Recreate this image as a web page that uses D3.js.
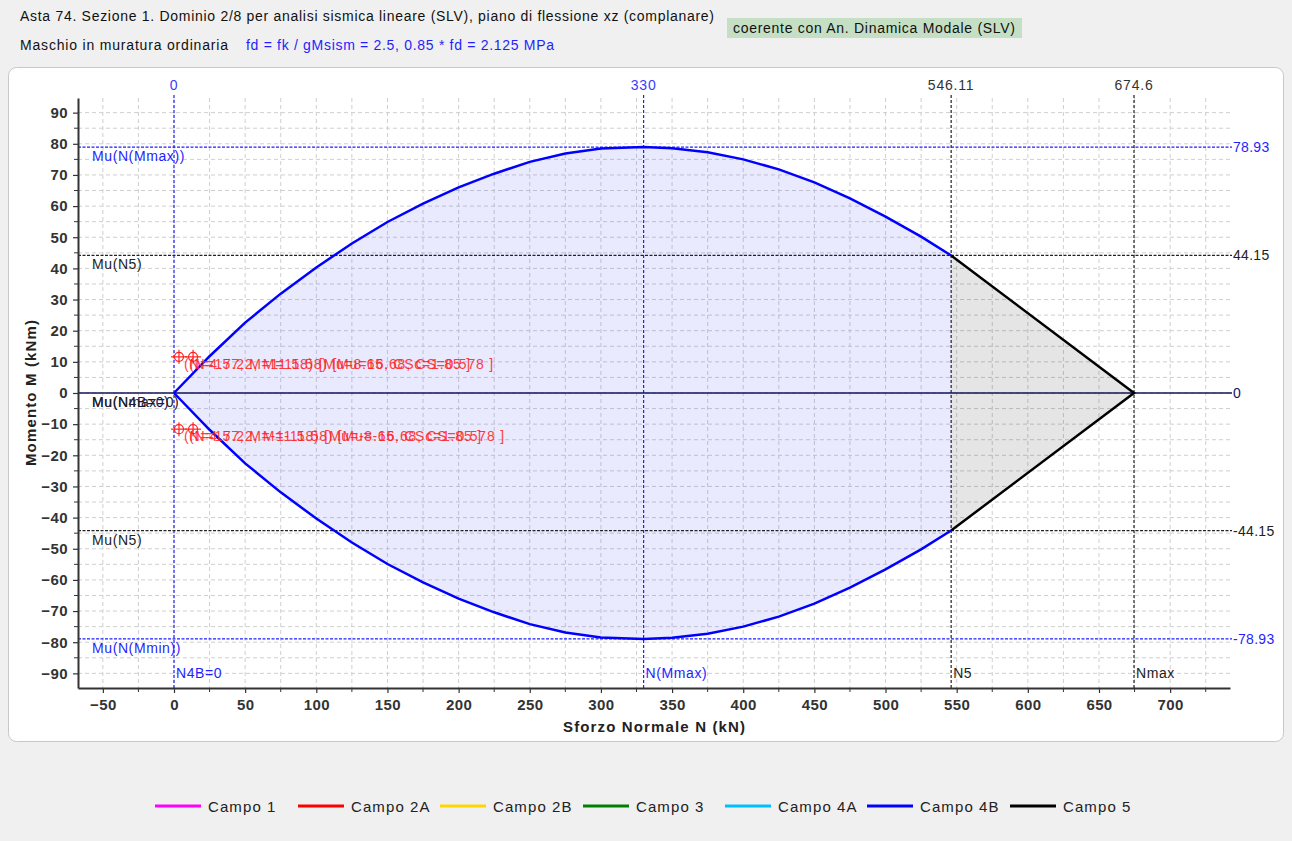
<!DOCTYPE html>
<html><head><meta charset="utf-8">
<script src="https://cdn.jsdelivr.net/npm/d3@7/dist/d3.min.js"></script>
<style>
html,body{margin:0;padding:0;background:#f0f0f0;}
svg{display:block;font-family:"Liberation Sans",Arial,sans-serif;}
</style></head>
<body>
<svg id="c" width="1292" height="841"></svg>
<script>
// ---- data ----
const domainN = [0,25,50,75,100,125,150,175,200,225,250,275,300,330,350,375,400,425,450,475,500,525,546.11];
const domainMup = [0,11.8,22.6,31.9,40.3,48.0,54.9,60.8,66.0,70.4,74.2,76.9,78.5,78.93,78.6,77.3,75.0,71.8,67.6,62.5,56.6,50.2,44.15];
const domainMlow = [0,-11.8,-22.6,-31.9,-40.3,-48.0,-54.9,-60.8,-66.0,-70.4,-74.2,-76.9,-78.5,-78.93,-78.6,-77.3,-75.0,-71.8,-67.6,-62.5,-56.6,-50.2,-44.15];
const campo5N = [546.11,674.6,546.11];
const campo5M = [44.15,0,-44.15];
const refN = [0,330,546.11,674.6];
const refNLabels = ["0","330","546.11","674.6"];
const refNNames = ["N4B=0","N(Mmax)","N5","Nmax"];
const refNColors = ["#1f1fff","#1f1fff","#222","#222"];
const refM = [78.93,44.15,0,-44.15,-78.93];
const refMLabels = ["78.93","44.15","0","-44.15","-78.93"];
const refMNames = ["Mu(N(Mmax))","Mu(N5)","Mu(N4B=0)","Mu(N5)","Mu(N(Mmin))"];
const refMColors = ["#1f1fff","#222","#14145a","#222","#1f1fff"];
const pointN = [3.5,13.4,3.5,13.4];
const pointM = [11.6,11.6,-11.6,-11.6];
const pointLabels = [
 "(N=4.57, M=11.58) [Mu=8.65, CSc=1.85 ]",
 "(N=17.22, M=11.58) [Mu=16.68, CS=0.578 ]",
 "(N=4.57, M=-11.58) [Mu=-8.65, CSc=1.85 ]",
 "(N=17.22, M=-11.58) [Mu=-16.68, CS=0.578 ]"
];
const xTicks = [-50,0,50,100,150,200,250,300,350,400,450,500,550,600,650,700];
const yTicks = [-90,-80,-70,-60,-50,-40,-30,-20,-10,0,10,20,30,40,50,60,70,80,90];
const legendNames = ["Campo 1","Campo 2A","Campo 2B","Campo 3","Campo 4A","Campo 4B","Campo 5"];
const legendColors = ["#ff00ff","#ff0000","#ffd700","#008000","#00bfff","#0000ff","#000000"];

// ---- chart ----
const svg = d3.select("#c");
const L=78,R=1230,T=98,B=688;
const x = d3.scaleLinear().domain([-67.46,742.06]).range([L,R]);
const y = d3.scaleLinear().domain([-94.7,94.7]).range([B,T]);

function fit(sel,w){return sel.attr("textLength",w).attr("lengthAdjust","spacing");}

// header
fit(svg.append("text").attr("x",20).attr("y",21).attr("font-size",14).attr("fill","#111")
  .text("Asta 74. Sezione 1. Dominio 2/8 per analisi sismica lineare (SLV), piano di flessione xz (complanare)"),694);
svg.append("rect").attr("x",727).attr("y",18).attr("width",295).attr("height",20).attr("fill","#c5dfc5");
fit(svg.append("text").attr("x",733).attr("y",33).attr("font-size",14).attr("fill","#111")
  .text("coerente con An. Dinamica Modale (SLV)"),282);
fit(svg.append("text").attr("x",20).attr("y",50).attr("font-size",14).attr("fill","#111").text("Maschio in muratura ordinaria"),208);
fit(svg.append("text").attr("x",246).attr("y",50).attr("font-size",14).attr("fill","#1f1fff")
  .text("fd = fk / gMsism = 2.5, 0.85 * fd = 2.125 MPa"),308);

// panel
svg.append("rect").attr("x",8.5).attr("y",67.5).attr("width",1275).attr("height",674).attr("rx",8)
  .attr("fill","#fff").attr("stroke","#c8c8c8");

// grid
const g = svg.append("g");
d3.range(-50,742,25).forEach(v=>{
  g.append("line").attr("x1",x(v)).attr("x2",x(v)).attr("y1",T).attr("y2",B)
   .attr("stroke","#cfcfcf").attr("stroke-dasharray","4,3");
});
d3.range(-90,95,5).forEach(v=>{
  g.append("line").attr("x1",L).attr("x2",R).attr("y1",y(v)).attr("y2",y(v))
   .attr("stroke","#cfcfcf").attr("stroke-dasharray","4,3");
});

// fills
const up = domainN.map((n,i)=>[n,domainMup[i]]);
const low = domainN.map((n,i)=>[n,domainMlow[i]]);
const line = d3.line().x(d=>x(d[0])).y(d=>y(d[1]));
svg.append("path").attr("d",line(up.concat(low.slice().reverse()))+"Z")
  .attr("fill","rgba(60,60,255,0.11)").attr("stroke","none");
const c5 = campo5N.map((n,i)=>[n,campo5M[i]]);
svg.append("path").attr("d",line(c5)+"Z").attr("fill","rgba(0,0,0,0.1)").attr("stroke","none");

// reference lines
refN.forEach((n,i)=>{
  svg.append("line").attr("x1",x(n)).attr("x2",x(n)).attr("y1",T-3).attr("y2",B)
    .attr("stroke",refNColors[i]).attr("stroke-width",1.2).attr("stroke-dasharray","3,2");
  svg.append("text").attr("x",x(n)).attr("y",90).attr("text-anchor","middle").attr("font-size",14)
    .attr("letter-spacing",0.8)
    .attr("fill",i<2?"#3b3bff":"#333").text(refNLabels[i]);
  svg.append("text").attr("x",x(n)+2).attr("y",678).attr("font-size",14).attr("letter-spacing",0.6)
    .attr("fill",refNColors[i]).text(refNNames[i]);
});
refM.forEach((m,i)=>{
  const solid = m===0;
  svg.append("line").attr("x1",L).attr("x2",R+2).attr("y1",y(m)).attr("y2",y(m))
    .attr("stroke",refMColors[i]).attr("stroke-width",solid?1.5:1.2)
    .attr("stroke-dasharray",solid?null:"3,1.5");
  svg.append("text").attr("x",R+3).attr("y",y(m)+5).attr("font-size",14).attr("letter-spacing",0.3)
    .attr("fill",refMColors[i]).text(refMLabels[i]);
  svg.append("text").attr("x",92).attr("y",y(m)+14).attr("font-size",14).attr("letter-spacing",0.6)
    .attr("fill",refMColors[i]).text(refMNames[i]);
});
svg.append("text").attr("x",92).attr("y",y(0)+14).attr("font-size",14).attr("letter-spacing",0.6)
  .attr("fill","#222").text("Mu(Nmax=0)");

// curves
svg.append("path").attr("d",line(up)).attr("fill","none").attr("stroke","#0000ff").attr("stroke-width",2.5);
svg.append("path").attr("d",line(low)).attr("fill","none").attr("stroke","#0000ff").attr("stroke-width",2.5);
svg.append("path").attr("d",line(c5)).attr("fill","none").attr("stroke","#000").attr("stroke-width",2.5);

// points
pointN.forEach((n,i)=>{
  const px=x(n), py=y(pointM[i]);
  const p = svg.append("g").attr("stroke","#ff2020").attr("stroke-width",1.2).attr("fill","none");
  p.append("circle").attr("cx",px).attr("cy",py).attr("r",4.5);
  p.append("line").attr("x1",px-8).attr("x2",px+8).attr("y1",py).attr("y2",py);
  p.append("line").attr("x1",px).attr("x2",px).attr("y1",py-7).attr("y2",py+7);
  svg.append("text").attr("x",px+5 - (i%2)*9).attr("y",py+12).attr("font-size",14)
    .attr("letter-spacing",0.8)
    .attr("fill","#ff2020").attr("opacity",0.85).text(pointLabels[i]);
});

// axes
const xAxis = d3.axisBottom(x).tickValues(xTicks).tickSize(5).tickSizeOuter(0);
const xa = svg.append("g").attr("transform",`translate(0,${B})`).call(xAxis);
const yAxis = d3.axisLeft(y).tickValues(yTicks).tickSize(5).tickSizeOuter(0);
const ya = svg.append("g").attr("transform",`translate(${L},0)`).call(yAxis);
[xa,ya].forEach(a=>{
  a.select(".domain").attr("stroke","#333").attr("stroke-width",2);
  a.selectAll(".tick line").attr("stroke","#333").attr("stroke-width",1.2);
  a.selectAll(".tick text").attr("font-family","Liberation Sans, Arial, sans-serif")
    .attr("font-size",15).attr("letter-spacing",0.4).attr("font-weight","bold").attr("fill","#333");
});
xa.selectAll(".tick text").attr("dy","0.95em");
ya.selectAll(".tick text").attr("dx","-2");
// minor ticks
d3.range(-25,742,50).forEach(v=>{
  svg.append("line").attr("x1",x(v)).attr("x2",x(v)).attr("y1",B).attr("y2",B+4).attr("stroke","#333");
});
d3.range(-85,95,10).forEach(v=>{
  svg.append("line").attr("x1",L-4).attr("x2",L).attr("y1",y(v)).attr("y2",y(v)).attr("stroke","#333");
});

// axis titles
fit(svg.append("text").attr("x",563).attr("y",732).attr("font-size",15)
  .attr("font-weight","bold").attr("fill","#222").text("Sforzo Normale N (kN)"),182);
fit(svg.append("text").attr("transform",`translate(36,${(T+B)/2+73}) rotate(-90)`)
  .attr("font-size",15).attr("font-weight","bold").attr("fill","#222").text("Momento M (kNm)"),146);

// legend
const legX = [155,298,440,583,725,867,1010];
legendNames.forEach((nm,i)=>{
  svg.append("line").attr("x1",legX[i]).attr("x2",legX[i]+46).attr("y1",806).attr("y2",806)
    .attr("stroke",legendColors[i]).attr("stroke-width",3);
  svg.append("text").attr("x",legX[i]+53).attr("y",812).attr("font-size",15).attr("letter-spacing",1.1)
    .attr("fill","#222").text(nm);
});
</script>
</body></html>
